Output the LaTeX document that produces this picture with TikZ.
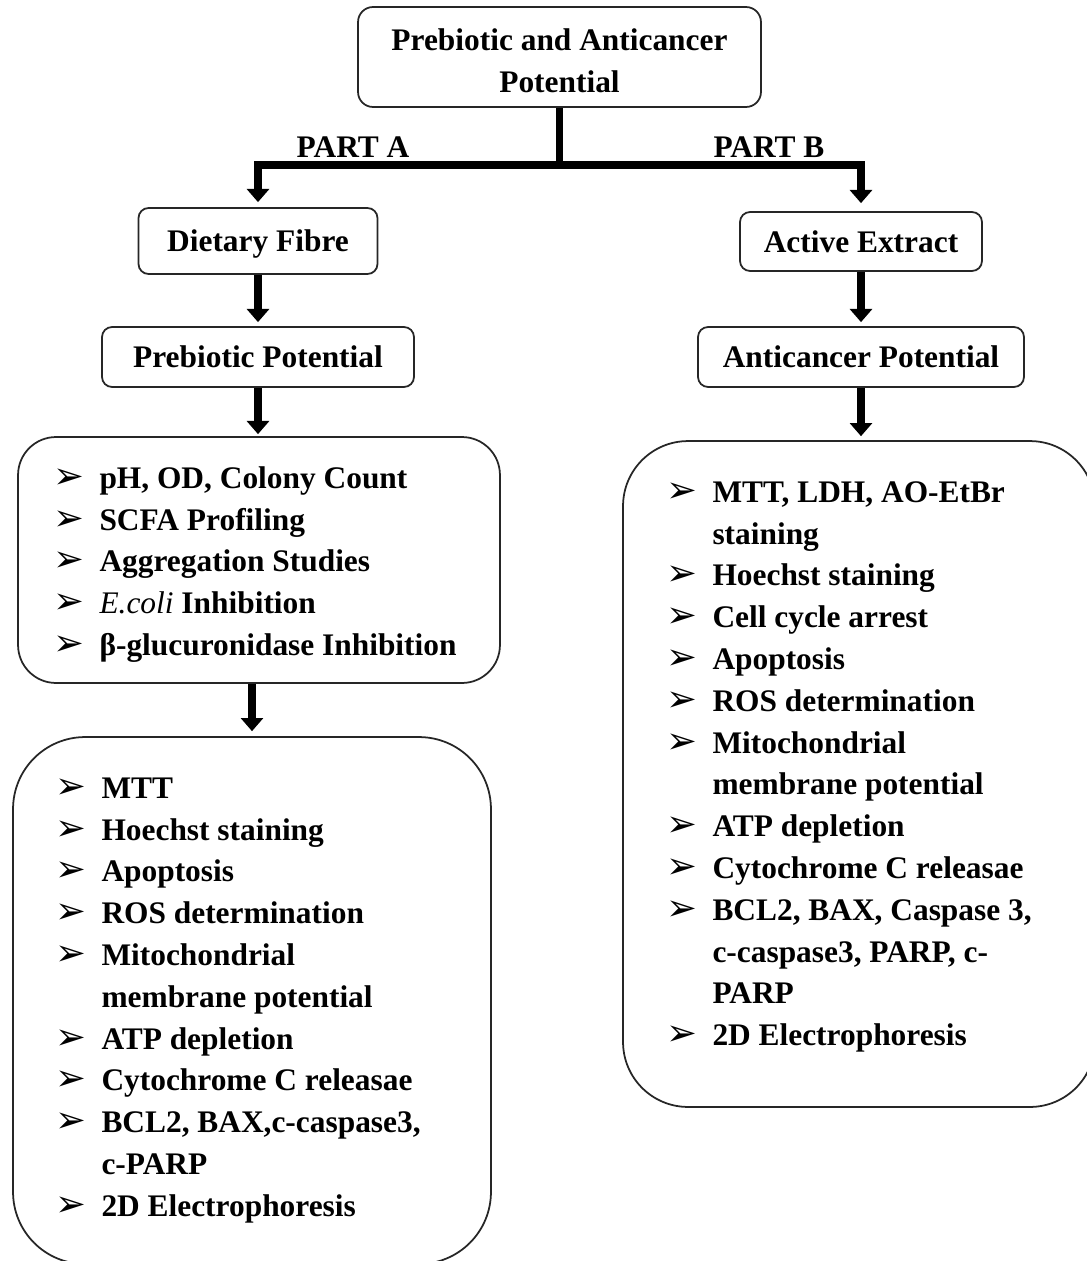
\documentclass[tikz,border=0pt]{standalone}
\usepackage{fontspec}
\setmainfont{Liberation Serif}
\newfontfamily\arrowfont{DejaVu Sans}
\usetikzlibrary{arrows.meta,positioning}
\newcommand{\itemmark}{\makebox[0.92cm][l]{\arrowfont\mdseries\fontsize{21}{21}\selectfont ➢}}
\newcommand{\wrapind}{\hspace*{0.92cm}}

\begin{document}
\begin{tikzpicture}[x=0.02cm,y=-0.02cm,
every node/.style={font=\fontsize{17.87}{23.79}\selectfont\bfseries, inner sep=0pt},
box/.style={draw=black!85, line width=1pt, rounded corners=0.2cm, text depth=0pt},
frame/.style={draw=black!85, line width=1pt},
arr/.style={line width=5pt, -{Triangle[width=12.5pt,length=7.5pt]}}]
\useasboundingbox (0,0) rectangle (1087,1261);
\clip (0,0) rectangle (1087,1261);
% title
\node[box, rounded corners=0.3cm, minimum width=8.06cm, minimum height=2cm, align=center] (title) at (559.5,57) {\strut Prebiotic and Anticancer\\Potential};
\coordinate (hub) at (title.south |- 0,165);
\node (parta) at (353,147) {PART A};
\node (partb) at (769,147) {PART B};
% part A
\node[box, minimum width=4.78cm, minimum height=1.32cm] (fibre) at (258,241) {Dietary Fibre};
\node[box, minimum width=6.24cm, minimum height=1.2cm] (prebio) at (258,357) {Prebiotic Potential};
\node[frame, rounded corners=0.76cm, minimum width=9.64cm, minimum height=4.92cm] (prebiotests) at (259,560) {};
\node[frame, rounded corners=1.44cm, minimum width=9.56cm, minimum height=10.54cm] (celltests) at (252,1000.5) {};
\node[anchor=north west, align=left] (prebiolist) at ([xshift=0.72cm,yshift=-0.452cm]prebiotests.north west)
{\strut\itemmark pH, OD, Colony Count\\
\itemmark SCFA Profiling\\
\itemmark Aggregation Studies\\
\itemmark {\mdseries\itshape E.coli} Inhibition\\
\itemmark β-glucuronidase Inhibition};
\node[anchor=north west, align=left] (celllist) at ([xshift=0.86cm,yshift=-0.652cm]celltests.north west)
{\strut\itemmark MTT\\
\itemmark Hoechst staining\\
\itemmark Apoptosis\\
\itemmark ROS determination\\
\itemmark Mitochondrial\\
\wrapind membrane potential\\
\itemmark ATP depletion\\
\itemmark Cytochrome C releasae\\
\itemmark BCL2, BAX,c-caspase3,\\
\wrapind c-PARP\\
\itemmark 2D Electrophoresis};
% part B
\node[box, minimum width=4.84cm, minimum height=1.18cm] (extract) at (861,241.5) {Active Extract};
\node[box, minimum width=6.52cm, minimum height=1.2cm] (anticancer) at (861,357) {Anticancer Potential};
\node[frame, rounded corners=1.3cm, minimum width=9.44cm, minimum height=13.32cm] (cancertests) at (859,774) {};
\node[anchor=north west, align=left] (cancerlist) at ([xshift=0.88cm,yshift=-0.652cm]cancertests.north west)
{\strut\itemmark MTT, LDH, AO-EtBr\\
\wrapind staining\\
\itemmark Hoechst staining\\
\itemmark Cell cycle arrest\\
\itemmark Apoptosis\\
\itemmark ROS determination\\
\itemmark Mitochondrial\\
\wrapind membrane potential\\
\itemmark ATP depletion\\
\itemmark Cytochrome C releasae\\
\itemmark BCL2, BAX, Caspase 3,\\
\wrapind c-caspase3, PARP, c-\\
\wrapind PARP\\
\itemmark 2D Electrophoresis};
% connectors
\draw[line width=4.5pt] (title.south) -- (hub);
\draw[arr, line width=4.5pt, shorten >=0.1cm] (hub) -| (fibre.north);
\draw[arr, line width=4.5pt, shorten >=0.16cm] (hub) -| (extract.north);
\draw[arr, shorten >=0.08cm] (fibre.south) -- (prebio.north);
\draw[arr, shorten >=0.04cm] (prebio.south) -- (prebio.south |- prebiotests.north);
\draw[arr, shorten >=0.1cm] (celltests.north |- prebiotests.south) -- (celltests.north);
\draw[arr, shorten >=0.08cm] (extract.south) -- (anticancer.north);
\draw[arr, shorten >=0.08cm] (anticancer.south) -- (anticancer.south |- cancertests.north);
\end{tikzpicture}
\end{document}
